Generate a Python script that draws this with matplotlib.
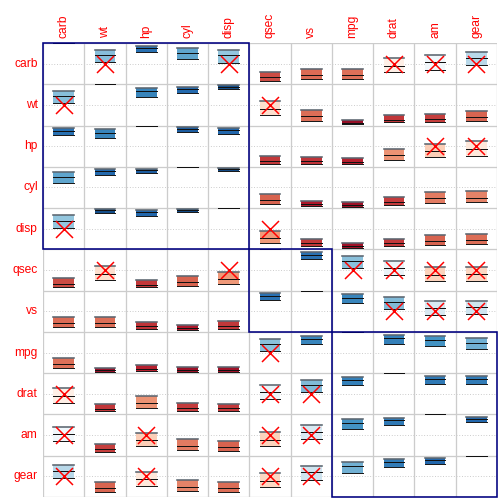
import matplotlib.pyplot as plt
import numpy as np
from matplotlib.colors import LinearSegmentedColormap
from matplotlib.patches import Rectangle

plt.rcParams['font.family'] = ['Liberation Sans', 'DejaVu Sans']

labels = ['carb', 'wt', 'hp', 'cyl', 'disp', 'qsec', 'vs', 'mpg', 'drat', 'am', 'gear']
n_obs = 32

# upper triangle of the correlation matrix, row by row (hclust order)
corr_upper = [
    [0.428, 0.750, 0.527, 0.395, -0.656, -0.570, -0.551, -0.091, 0.058, 0.274],
    [0.659, 0.782, 0.888, -0.175, -0.555, -0.868, -0.712, -0.692, -0.583],
    [0.832, 0.791, -0.708, -0.723, -0.776, -0.449, -0.243, -0.126],
    [0.902, -0.591, -0.811, -0.852, -0.700, -0.523, -0.493],
    [-0.434, -0.710, -0.848, -0.710, -0.591, -0.556],
    [0.745, 0.419, 0.091, -0.230, -0.213],
    [0.664, 0.440, 0.168, 0.206],
    [0.681, 0.600, 0.480],
    [0.713, 0.700],
    [0.794],
]

# pairs not significant at 0.01 (red crosses)
insig = [('carb', 'wt'), ('carb', 'disp'), ('carb', 'drat'), ('carb', 'am'),
         ('carb', 'gear'), ('wt', 'qsec'), ('hp', 'am'), ('hp', 'gear'),
         ('disp', 'qsec'), ('qsec', 'mpg'), ('qsec', 'drat'), ('qsec', 'am'),
         ('qsec', 'gear'), ('vs', 'drat'), ('vs', 'am'), ('vs', 'gear')]

cluster_sizes = [5, 2, 4]

col2 = ["#67001F", "#B2182B", "#D6604D", "#F4A582", "#FDDBC7", "#FFFFFF",
        "#D1E5F0", "#92C5DE", "#4393C3", "#2166AC", "#053061"]
cmap = LinearSegmentedColormap.from_list('rdbu', col2)

k = len(labels)
M = np.eye(k)
for i, row in enumerate(corr_upper):
    for j, v in enumerate(row):
        M[i, i + 1 + j] = v
        M[i + 1 + j, i] = v

# 95% confidence intervals (Fisher z, as cor.test)
se = 1 / np.sqrt(n_obs - 3)
z = np.arctanh(np.clip(M, -0.999999, 0.999999))
low = np.tanh(z - 1.96 * se)
upp = np.tanh(z + 1.96 * se)
np.fill_diagonal(low, 1)
np.fill_diagonal(upp, 1)

fig = plt.figure(figsize=(7, 7), dpi=72)
ax = fig.add_axes([43 / 504, 7 / 504, 454 / 504, 454 / 504])
ax.set_xlim(0, k)
ax.set_ylim(k, 0)
ax.axis('off')

# grid and dotted centre lines
for i in range(k):
    ax.plot([0, k], [i + 0.5, i + 0.5], color='#c4c4c4', lw=0.9,
            ls=(0, (1, 2)), zorder=1)
for g in range(k + 1):
    ax.plot([g, g], [0, k], color='#cccccc', lw=1.3, zorder=1)
    ax.plot([0, k], [g, g], color='#cccccc', lw=1.3, zorder=1)

for i in range(k):
    for j in range(k):
        xc = j + 0.5
        yc = i + 0.5
        r = M[i, j]
        y_low = yc - low[i, j] * 0.5
        y_upp = yc - upp[i, j] * 0.5
        y_est = yc - r * 0.5
        x0, x1 = xc - 0.25, xc + 0.25
        if i != j:
            ax.add_patch(Rectangle((x0, y_upp), 0.5, y_low - y_upp,
                                   facecolor=cmap((r + 1) / 2), edgecolor='none',
                                   zorder=2))
            ax.plot([x0, x1], [y_upp, y_upp], color='#5c6670', lw=1.6, zorder=3)
            ax.plot([x0, x1], [y_low, y_low], color='#1a1a1a', lw=1.0, zorder=3)
        ax.plot([x0, x1], [y_est, y_est], color='#111111', lw=1.0, zorder=3)

for a, b in insig:
    i, j = labels.index(a), labels.index(b)
    for p, q in ((i, j), (j, i)):
        ax.plot(q + 0.5, p + 0.5, marker='x', color='red', ms=17, mew=1.5,
                ls='none', zorder=4)

start = 0
for s in cluster_sizes:
    ax.add_patch(Rectangle((start, start), s, s, fill=False, edgecolor='navy',
                           lw=1.6, zorder=5, clip_on=False))
    start += s

for i, lab in enumerate(labels):
    ax.text(-0.13, i + 0.5, lab, color='red', fontsize=12, ha='right',
            va='center', clip_on=False)
    ax.text(i + 0.5, -0.13, lab, color='red', fontsize=12, ha='center',
            va='bottom', rotation=90, clip_on=False)

fig.savefig('out.png', dpi=72)
